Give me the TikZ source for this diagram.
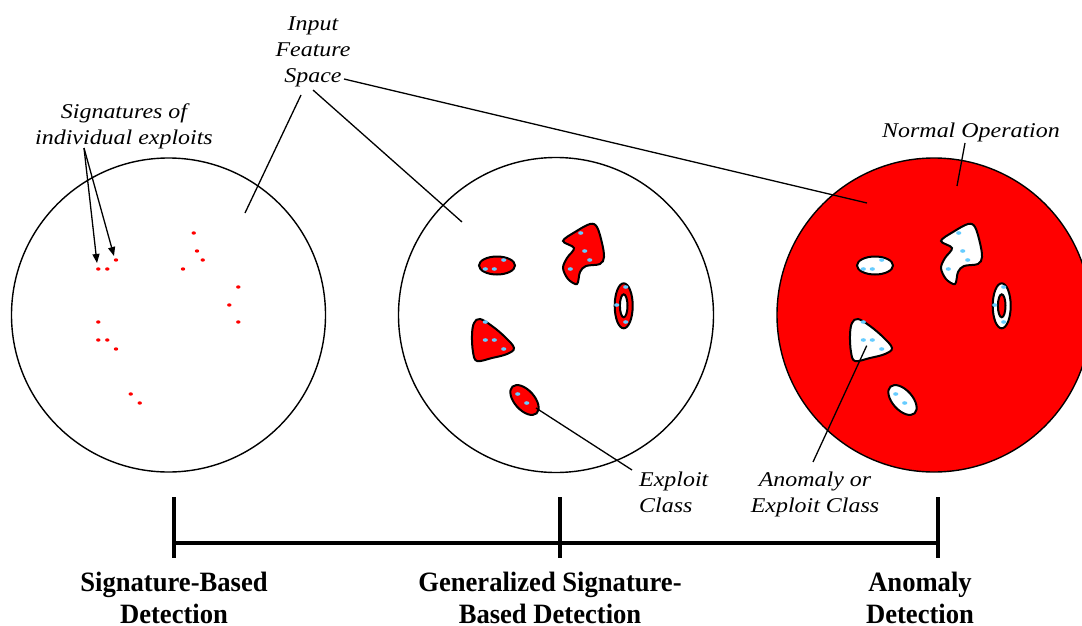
\documentclass[tikz,border=0pt]{standalone}
\usepackage{fontspec}
\setmainfont{Liberation Serif}
\newfontfamily\calloutfont[FakeStretch=1.14]{Liberation Serif}
\newfontfamily\methodfont[FakeStretch=0.95]{Liberation Serif}
\usetikzlibrary{arrows.meta}

\definecolor{exploitred}{RGB}{255,0,0}
\definecolor{hitblue}{RGB}{102,204,255}

\tikzset{
  featurespace/.style={line width=1.4pt},
  leader/.style={line width=1.3pt},
  classline/.style={draw=black, line width=2pt},
  axis/.style={line width=4pt},
  callout/.style={font=\calloutfont\itshape\fontsize{21}{26}\selectfont, inner sep=0pt, anchor=base},
  method/.style={font=\methodfont\bfseries\fontsize{28}{32}\selectfont, inner sep=0pt, anchor=base},
}

% exploit classes of the middle space; #1 = class fill, #2 = hole fill
\newcommand\exploitclasses[2]{%
  \filldraw[classline, fill=#1] (497,265.5) ellipse [x radius=18pt, y radius=9pt];
  \filldraw[classline, fill=#1] plot[smooth cycle, tension=0.55] coordinates
    {(563,241) (575,232) (590,224) (597,227) (602,243) (604,257) (600,264) (586,266)
     (580,272) (577,284) (568,279) (563,268) (567,258) (574,248)};
  \filldraw[classline, fill=#1] (623.7,305.8) ellipse [x radius=9pt, y radius=22.5pt];
  \filldraw[classline, fill=#2] (623.7,305.8) ellipse [x radius=3.8pt, y radius=11.5pt];
  \filldraw[classline, fill=#1] plot[smooth cycle, tension=0.6] coordinates
    {(480,319) (492,326) (505,337) (514,348) (507,354) (492,358) (477,361) (473,352) (472,335) (474,323)};
  \filldraw[classline, fill=#1, shift={(524.5,400)}, rotate=-48] (0,0) ellipse [x radius=18pt, y radius=10pt];
  \foreach \x/\y in {485.3/269, 494.3/269, 503.7/260, 580.7/233, 584.7/251, 589.7/260, 570.3/269,
      625.7/287, 616.7/305, 625.7/322, 485.3/322, 485.3/340, 494.3/340, 503.7/349, 517.7/394, 526.7/403}
    \fill[hitblue] (\x,\y) ellipse [x radius=2.6pt, y radius=1.8pt];
}

\begin{document}
\begin{tikzpicture}[x=1pt, y=-1pt]
  \useasboundingbox (0,0) rectangle (1082,626);
  \clip (0,0) rectangle (1082,626);

  % signature-based detection
  \draw[featurespace] (168.5,315) circle [radius=157pt];
  \foreach \x/\y in {98.3/269, 107.3/269, 116/260, 193.7/233, 197/251, 202.7/260, 183/269,
      238.3/287, 229.3/305, 238.3/322, 98.3/322, 98.3/340, 107.3/340, 116/349, 130.7/394, 139.7/403}
    \fill[exploitred] (\x,\y) ellipse [x radius=2.2pt, y radius=1.7pt];

  % generalized signature-based detection
  \draw[featurespace] (556,315) circle [radius=157.5pt];
  \exploitclasses{exploitred}{white}

  % anomaly detection
  \begin{scope}[xshift=378pt]
    \filldraw[featurespace, fill=exploitred] (556,315) circle [radius=157pt];
    \exploitclasses{white}{exploitred}
  \end{scope}

  % callouts (base = last line)
  \node[callout, align=center] (sigs) at (124,144) {Signatures of\\individual exploits};
  \node[callout, align=center] (ifs) at (313,83) {Input\\Feature\\Space};
  \node[callout] (normal) at (971,137) {Normal Operation};
  \node[callout, anchor=base west, align=left] (excls) at (639,512) {Exploit\\Class};
  \node[callout, align=center] (anom) at (815,512) {Anomaly or\\Exploit Class};

  \coordinate (sigfoot) at (84,148);
  \coordinate (sigA) at (97,263);
  \coordinate (sigB) at (114,256);
  \coordinate (ifs1) at (301,95);
  \coordinate (ifs2) at (313,90);
  \coordinate (ifs3) at (344,79);
  \coordinate (sbd) at (245,213);
  \coordinate (gsbd) at (462,222);
  \coordinate (ad) at (867,203);
  \coordinate (normfoot) at (965,143);
  \coordinate (normin) at (957,186);
  \coordinate (exin) at (536,408);
  \coordinate (exfoot) at (632,470);
  \coordinate (anin) at (866.7,345.7);
  \coordinate (anfoot) at (813,462);

  \draw[leader, -{Triangle[length=9pt, width=7pt]}] (sigfoot) -- (sigA);
  \draw[leader, -{Triangle[length=9pt, width=7pt]}] (sigfoot) -- (sigB);
  \draw[leader] (ifs1) -- (sbd);
  \draw[leader] (ifs2) -- (gsbd);
  \draw[leader] (ifs3) -- (ad);
  \draw[leader] (normfoot) -- (normin);
  \draw[leader] (exin) -- (exfoot);
  \draw[leader] (anin) -- (anfoot);

  % detection scale
  \coordinate (sbtick) at (174,543);
  \coordinate (gstick) at (560,543);
  \coordinate (adtick) at (938,543);
  \draw[axis] (sbtick) -- (adtick);
  \foreach \x in {174,560,938}
    \draw[axis] (\x,497) -- (\x,558);

  \node[method, align=center] (sbl) at (174,623) {Signature-Based\\Detection};
  \node[method, align=center] (gsl) at (550,623) {Generalized Signature-\\Based Detection};
  \node[method, align=center] (adl) at (920,623) {Anomaly\\Detection};
\end{tikzpicture}
\end{document}
